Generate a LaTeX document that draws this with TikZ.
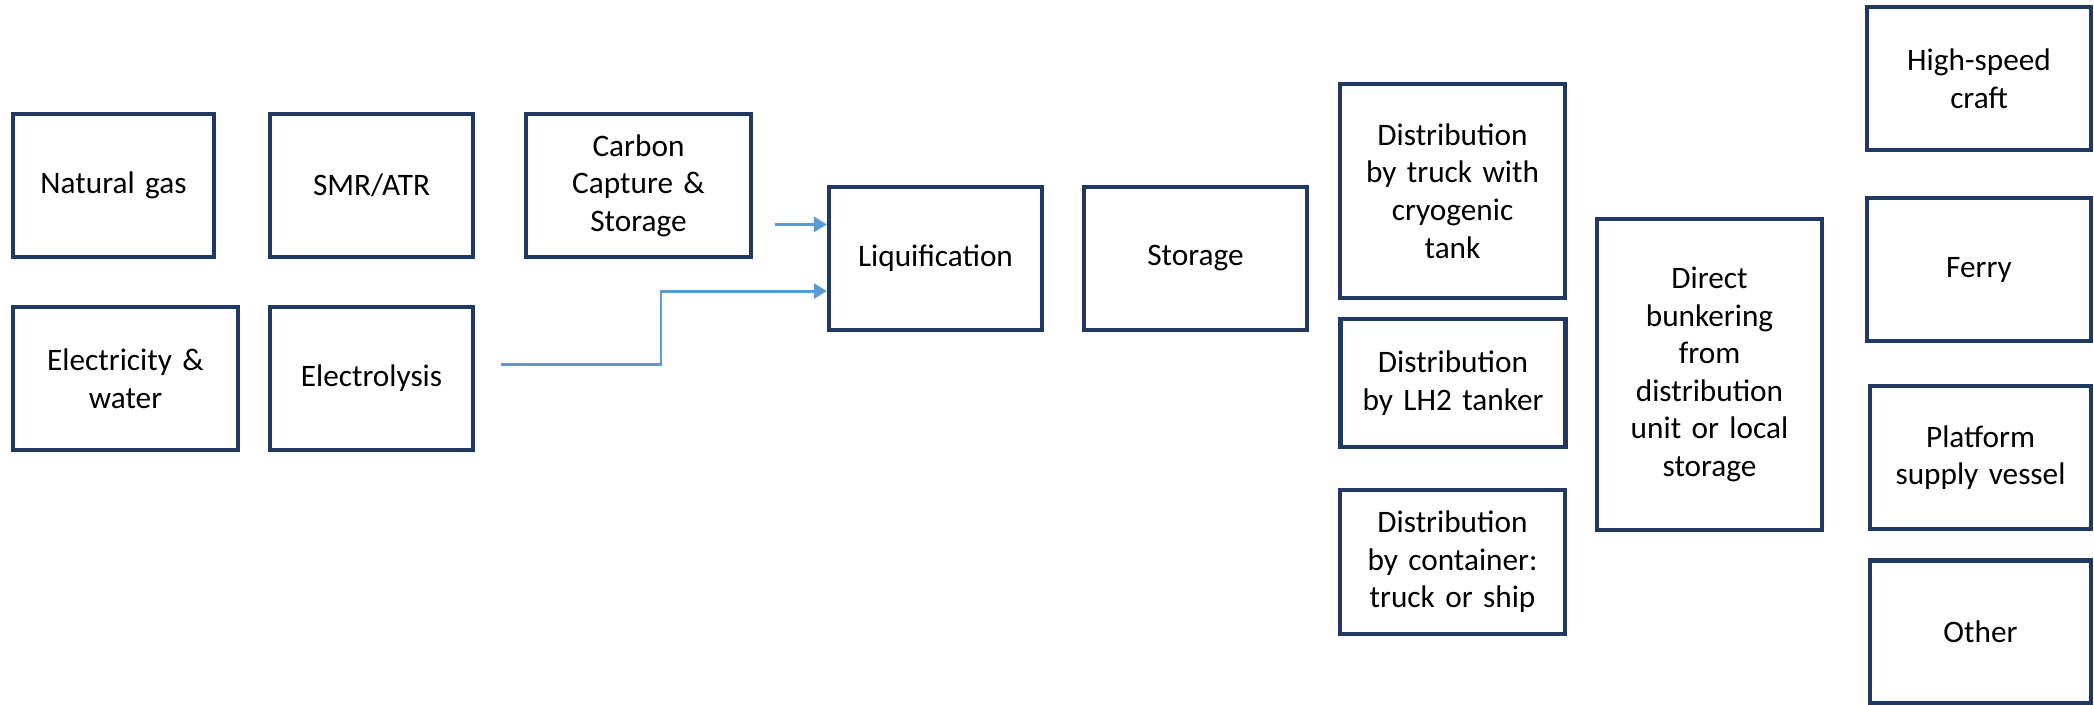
\documentclass[tikz,border=0pt]{standalone}
\usepackage{fontspec}
\setmainfont{Carlito}
\usepackage{tikz}
\usetikzlibrary{arrows.meta, positioning}
\definecolor{BoxBlue}{HTML}{203864}
\definecolor{FlowBlue}{HTML}{5B9BD5}
\tikzset{
    stagebox/.style={
        rectangle,
        draw=BoxBlue,
        fill=white,
        minimum width=2.25cm,
        minimum height=1.43cm,
        text width=1.95cm,
        align=center,
        inner sep=2pt,
        font=\fontsize{8.9}{10.7}\selectfont,
        line width=1.2pt
    },
    flowarrow/.style={
        -{Triangle[length=1.3mm, width=1.5mm]},
        draw=FlowBlue,
        line width=0.8pt
    }
}
\begin{document}
\begin{tikzpicture}
    \useasboundingbox (0,0) rectangle (20.94,7.04);
    % Nodes
    \node[stagebox, text width=1.7cm, minimum width=2.01cm] (gas) at (1.135,5.185) {Natural gas};
    \node[stagebox, text width=1.7cm, minimum width=2.03cm] (smr) at (3.715,5.185) {SMR/ATR};
    \node[stagebox] (ccs) at (6.385,5.185) {Carbon\\Capture \&\\Storage};

    \node[stagebox] (power) at (1.255,3.255) {Electricity \&\\water};
    \node[stagebox, text width=1.7cm, minimum width=2.03cm] (elyz) at (3.715,3.255) {Electrolysis};

    \node[stagebox, text width=1.8cm, minimum width=2.13cm] (liq) at (9.355,4.455) {Liquification};
    \node[stagebox, minimum width=2.23cm] (store) at (11.955,4.455) {Storage};

    \node[stagebox, minimum height=2.14cm] (truck) at (14.525,5.13) {Distribution\\by truck with\\cryogenic\\tank};
    \node[stagebox, minimum height=1.28cm] (tanker) at (14.53,3.21) {Distribution\\by LH2 tanker};
    \node[stagebox, minimum height=1.44cm] (cont) at (14.525,1.42) {Distribution\\by container:\\truck or ship};

    \node[stagebox, minimum height=3.11cm] (bunker) at (17.095,3.295) {Direct\\bunkering\\from\\distribution\\unit or local\\storage};

    \node[stagebox, minimum width=2.24cm] (hsc) at (19.79,6.255) {High-speed\\craft};
    \node[stagebox, minimum width=2.24cm] (ferry) at (19.79,4.345) {Ferry};
    \node[stagebox, minimum width=2.21cm] (psv) at (19.805,2.465) {Platform\\supply vessel};
    \node[stagebox, minimum width=2.21cm] (other) at (19.805,0.72) {Other};

    \coordinate (ccsout) at (7.75,4.796);
    \coordinate (elyzout) at (5.01,3.394);
    \coordinate (bend) at (6.61,4.129);

    % Paths
    \draw[flowarrow] (ccsout) -- (liq.west |- ccsout);
    \draw[flowarrow] (elyzout) -| (bend) -- (liq.west |- bend);

\end{tikzpicture}
\end{document}
